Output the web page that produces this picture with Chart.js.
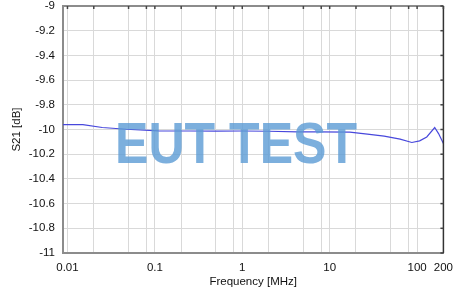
<!DOCTYPE html>
<html>
<head>
<meta charset="utf-8">
<script src="https://cdn.jsdelivr.net/npm/chart.js@4"></script>
<style>
  html, body { margin: 0; padding: 0; background: #fff; }
  #wrap { width: 461px; height: 289px; }
</style>
</head>
<body>
<div id="wrap"><canvas id="s21Chart"></canvas></div>
<script>
// frequency in MHz, S21 in dB
var freqs = [0.00889, 0.015, 0.025, 0.047, 0.11, 0.25, 0.5, 1, 2, 4.3, 7.3, 17, 27, 42, 64, 87, 107, 129, 159, 176, 200]
var s21 = [-9.96, -9.96, -9.984, -9.998, -10.011, -10.012, -10.013, -10.012, -10.014, -10.019, -10.019, -10.021, -10.037, -10.054, -10.078, -10.105, -10.092, -10.06, -9.984, -10.033, -10.113]

var xMin = 0.00889
var xMax = 200
var decades = [0.01, 0.1, 1, 10, 100]
var gridSteps = [1, 2, 5, 8]
var xLabels = [0.01, 0.1, 1, 10, 100, 200]
var yMin = -11
var yMax = -9
var yStep = 0.2
var watermark = 'EUT TEST'

var points = []
for (var i = 0; i < freqs.length; i++) {
  points.push({x: freqs[i], y: s21[i]})
}

var fontFam = '"Liberation Sans", Arial, sans-serif'

// frame on top/right with small inward ticks, plus the watermark
var framePlugin = {
  id: 'frame',
  afterDatasetsDraw: function(chart) {
    var ctx = chart.ctx
    var a = chart.chartArea
    var xs = chart.scales.x
    var ys = chart.scales.y
    ctx.save()
    ctx.strokeStyle = '#8c8c8c'
    ctx.lineWidth = 2
    ctx.beginPath()
    ctx.moveTo(a.left, a.top)
    ctx.lineTo(a.right, a.top)
    ctx.stroke()
    ctx.strokeStyle = '#333'
    ctx.lineWidth = 1.5
    ctx.beginPath()
    ctx.moveTo(a.right, a.top)
    ctx.lineTo(a.right, a.bottom)
    ctx.stroke()
    ctx.strokeStyle = '#444'
    xs.ticks.forEach(function(t) {
      var px = xs.getPixelForValue(t.value)
      ctx.beginPath()
      ctx.moveTo(px, a.top)
      ctx.lineTo(px, a.top + 3)
      ctx.stroke()
    })
    ys.ticks.forEach(function(t) {
      var py = ys.getPixelForValue(t.value)
      ctx.beginPath()
      ctx.moveTo(a.right, py)
      ctx.lineTo(a.right - 3, py)
      ctx.stroke()
    })
    // watermark
    ctx.font = 'bold 58px "Liberation Sans Narrow", "Liberation Sans", Arial, sans-serif'
    ctx.textBaseline = 'alphabetic'
    ctx.textAlign = 'left'
    var w = ctx.measureText(watermark).width
    var target = 242
    ctx.translate(a.left + 52, a.top + 157)
    ctx.scale(target / w, 1.0)
    ctx.fillStyle = 'rgba(91,155,213,0.8)'
    ctx.fillText(watermark, 0, 0)
    ctx.restore()
  }
}

var s21Chart = new Chart(document.querySelector('#s21Chart'), {
  type: 'line',
  data: {
    datasets: [{
      label: 'S21',
      data: points,
      borderColor: 'rgb(72,72,220)',
      borderWidth: 1.2,
      pointRadius: 0,
      tension: 0,
      fill: false
    }]
  },
  options: {
    responsive: true,
    maintainAspectRatio: false,
    animation: false,
    layout: { padding: { top: 0, right: 14, left: 10, bottom: 0 } },
    plugins: {
      legend: { display: false },
      tooltip: { enabled: false }
    },
    scales: {
      x: {
        type: 'logarithmic',
        min: xMin,
        max: xMax,
        afterBuildTicks: function(scale) {
          var ticks = []
          decades.forEach(function(d) {
            gridSteps.forEach(function(m) {
              var v = +(d * m).toPrecision(3)
              if (v <= xMax) ticks.push({value: v})
            })
          })
          if (ticks[ticks.length - 1].value !== xMax) ticks.push({value: xMax})
          scale.ticks = ticks
        },
        afterFit: function(scale) { scale.height = 36 },
        grid: { color: '#d9d9d9', lineWidth: 1, drawTicks: false },
        border: { color: '#8c8c8c', width: 2 },
        ticks: {
          autoSkip: false,
          maxRotation: 0,
          padding: 8,
          color: '#111',
          font: { family: fontFam, size: 11.5 },
          callback: function(v) {
            return xLabels.indexOf(v) >= 0 ? String(v) : ''
          }
        },
        title: {
          display: true,
          text: 'Frequency [MHz]',
          color: '#111',
          font: { family: fontFam, size: 11.5 },
          padding: { top: 0, bottom: 0 }
        }
      },
      y: {
        min: yMin,
        max: yMax,
        afterFit: function(scale) {
          scale.width = 53
          scale.paddingTop = 6
          scale.paddingBottom = 0
        },
        grid: { color: '#d9d9d9', lineWidth: 1, drawTicks: false },
        border: { color: '#8c8c8c', width: 2 },
        ticks: {
          stepSize: yStep,
          padding: 8,
          color: '#111',
          font: { family: fontFam, size: 11.5 },
          callback: function(v) { return String(Number(v.toFixed(1))) }
        },
        title: {
          display: true,
          text: 'S21 [dB]',
          color: '#111',
          font: { family: fontFam, size: 11.5 },
          padding: { top: 0, bottom: 0 }
        }
      }
    }
  },
  plugins: [framePlugin]
})
</script>
</body>
</html>
